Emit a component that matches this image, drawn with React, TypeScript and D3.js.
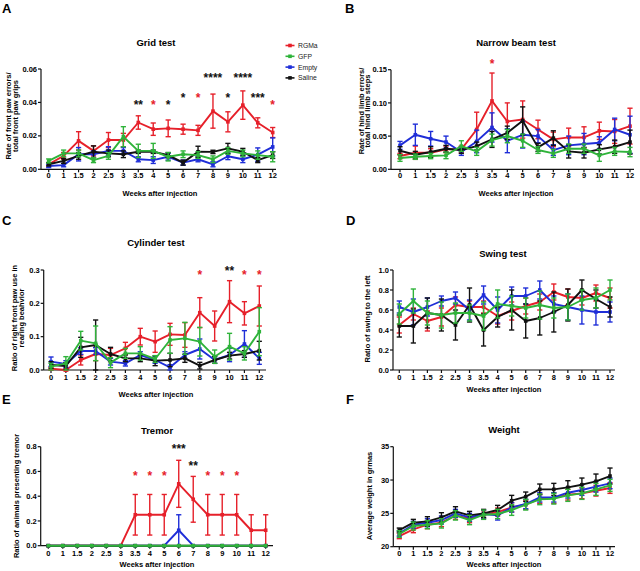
import React from 'react'
import * as d3 from 'd3'

// ── Categories ──────────────────────────────────────────────────────────────
const WEEKS = ['0', '1', '1.5', '2', '2.5', '3', '3.5', '4', '5', '6', '7', '8', '9', '10', '11', '12']
const WEEKS_CYL = ['0', '1', '1.5', '2', '2.5', '3', '4', '5', '6', '7', '8', '9', '10', '11', '12']
const GROUPS = ['RGMa', 'GFP', 'Empty', 'Saline']
const DRAW_ORDER = ['RGMa', 'Empty', 'Saline', 'GFP']
const COLORS: Record<string, string> = {
  RGMa: '#e6202a',
  GFP: '#2fb33a',
  Empty: '#1f2ed8',
  Saline: '#111111',
}
const STAR_RED = '#e6202a'
const STAR_BLACK = '#111111'

// ── A: Grid test ────────────────────────────────────────────────────────────
const gridMean: Record<string, number[]> = {
  RGMa: [0.003, 0.008, 0.017, 0.011, 0.0175, 0.0175, 0.028, 0.024, 0.0245, 0.024, 0.0233, 0.0348, 0.0284, 0.0384, 0.0278, 0.022],
  GFP: [0.005, 0.0095, 0.0095, 0.0055, 0.008, 0.0195, 0.011, 0.011, 0.0075, 0.009, 0.0085, 0.006, 0.011, 0.0095, 0.0085, 0.0075],
  Empty: [0.002, 0.0025, 0.009, 0.009, 0.011, 0.011, 0.006, 0.0055, 0.0075, 0.004, 0.006, 0.003, 0.0078, 0.006, 0.0088, 0.0134],
  Saline: [0.003, 0.005, 0.008, 0.0105, 0.0095, 0.009, 0.0105, 0.0105, 0.0085, 0.004, 0.0105, 0.0104, 0.0125, 0.0105, 0.0055, 0.0085],
}
const gridErr: Record<string, number[]> = {
  RGMa: [0.001, 0.002, 0.0055, 0.003, 0.0045, 0.004, 0.004, 0.0037, 0.005, 0.003, 0.003, 0.0102, 0.006, 0.0085, 0.003, 0.003],
  GFP: [0.0012, 0.002, 0.002, 0.0015, 0.002, 0.006, 0.004, 0.0045, 0.0025, 0.002, 0.002, 0.002, 0.002, 0.002, 0.0025, 0.003],
  Empty: [0.001, 0.001, 0.004, 0.002, 0.0025, 0.002, 0.0015, 0.002, 0.002, 0.0015, 0.0015, 0.0015, 0.002, 0.002, 0.004, 0.0054],
  Saline: [0.001, 0.0015, 0.002, 0.0035, 0.002, 0.002, 0.001, 0.001, 0.0015, 0.0015, 0.0033, 0.001, 0.003, 0.002, 0.0015, 0.002],
}
const gridStars = [
  { week: '3.5', value: 0.04, text: '**', color: STAR_BLACK },
  { week: '4', value: 0.04, text: '*', color: STAR_RED },
  { week: '5', value: 0.04, text: '*', color: STAR_BLACK },
  { week: '6', value: 0.0445, text: '*', color: STAR_BLACK },
  { week: '7', value: 0.0445, text: '*', color: STAR_RED },
  { week: '8', value: 0.0565, text: '****', color: STAR_BLACK },
  { week: '9', value: 0.0445, text: '*', color: STAR_BLACK },
  { week: '10', value: 0.0565, text: '****', color: STAR_BLACK },
  { week: '11', value: 0.0443, text: '***', color: STAR_BLACK },
  { week: '12', value: 0.04, text: '*', color: STAR_RED },
]

// ── B: Narrow beam test ─────────────────────────────────────────────────────
const beamMean: Record<string, number[]> = {
  RGMa: [0.02, 0.025, 0.025, 0.03, 0.03, 0.06, 0.103, 0.072, 0.075, 0.06, 0.045, 0.048, 0.048, 0.058, 0.057, 0.065],
  GFP: [0.017, 0.019, 0.02, 0.021, 0.035, 0.027, 0.044, 0.05, 0.043, 0.029, 0.024, 0.031, 0.031, 0.021, 0.027, 0.026],
  Empty: [0.036, 0.052, 0.046, 0.041, 0.026, 0.042, 0.063, 0.043, 0.052, 0.05, 0.029, 0.036, 0.038, 0.04, 0.06, 0.052],
  Saline: [0.028, 0.022, 0.026, 0.031, 0.029, 0.035, 0.045, 0.055, 0.073, 0.033, 0.047, 0.027, 0.025, 0.03, 0.034, 0.041],
}
const beamErr: Record<string, number[]> = {
  RGMa: [0.004, 0.01, 0.006, 0.005, 0.005, 0.026, 0.042, 0.028, 0.028, 0.014, 0.011, 0.014, 0.016, 0.013, 0.018, 0.027],
  GFP: [0.005, 0.004, 0.004, 0.005, 0.008, 0.006, 0.009, 0.01, 0.01, 0.005, 0.006, 0.007, 0.007, 0.009, 0.006, 0.007],
  Empty: [0.006, 0.016, 0.011, 0.009, 0.005, 0.017, 0.022, 0.018, 0.02, 0.01, 0.008, 0.014, 0.016, 0.009, 0.017, 0.028],
  Saline: [0.006, 0.005, 0.008, 0.005, 0.005, 0.006, 0.012, 0.01, 0.021, 0.006, 0.011, 0.01, 0.008, 0.007, 0.01, 0.018],
}
const beamStars = [{ week: '3.5', value: 0.163, text: '*', color: STAR_RED }]

// ── C: Cylinder test (no 3.5 week) ──────────────────────────────────────────
const cylMean: Record<string, number[]> = {
  RGMa: [0.004, 0.0, 0.03, 0.048, 0.045, 0.065, 0.1, 0.085, 0.107, 0.105, 0.172, 0.132, 0.205, 0.17, 0.192],
  GFP: [0.01, 0.02, 0.088, 0.08, 0.022, 0.05, 0.05, 0.033, 0.09, 0.095, 0.085, 0.04, 0.07, 0.05, 0.115],
  Empty: [0.025, 0.018, 0.057, 0.057, 0.025, 0.02, 0.045, 0.03, 0.008, 0.045, 0.063, 0.03, 0.045, 0.078, 0.035],
  Saline: [0.015, 0.012, 0.068, 0.075, 0.048, 0.035, 0.035, 0.028, 0.03, 0.035, 0.013, 0.03, 0.043, 0.048, 0.058],
}
const cylErr: Record<string, number[]> = {
  RGMa: [0.004, 0.003, 0.015, 0.02, 0.02, 0.018, 0.025, 0.032, 0.033, 0.037, 0.045, 0.045, 0.063, 0.035, 0.06],
  GFP: [0.01, 0.02, 0.028, 0.052, 0.015, 0.015, 0.02, 0.01, 0.04, 0.048, 0.043, 0.02, 0.04, 0.02, 0.072],
  Empty: [0.014, 0.01, 0.01, 0.01, 0.01, 0.008, 0.01, 0.01, 0.008, 0.01, 0.03, 0.01, 0.02, 0.04, 0.018],
  Saline: [0.01, 0.01, 0.03, 0.075, 0.02, 0.01, 0.01, 0.015, 0.02, 0.012, 0.01, 0.01, 0.01, 0.01, 0.028],
}
const cylStars = [
  { week: '8', value: 0.293, text: '*', color: STAR_RED },
  { week: '10', value: 0.307, text: '**', color: STAR_BLACK },
  { week: '11', value: 0.293, text: '*', color: STAR_RED },
  { week: '12', value: 0.293, text: '*', color: STAR_RED },
]

// ── D: Swing test ───────────────────────────────────────────────────────────
const swingMean: Record<string, number[]> = {
  RGMa: [0.45, 0.56, 0.49, 0.53, 0.65, 0.63, 0.63, 0.54, 0.59, 0.64, 0.68, 0.78, 0.73, 0.72, 0.77, 0.72],
  GFP: [0.56, 0.69, 0.57, 0.55, 0.57, 0.57, 0.54, 0.66, 0.64, 0.62, 0.65, 0.62, 0.63, 0.7, 0.72, 0.8],
  Empty: [0.63, 0.58, 0.63, 0.69, 0.72, 0.6, 0.75, 0.6, 0.74, 0.74, 0.8, 0.66, 0.63, 0.6, 0.58, 0.58],
  Saline: [0.44, 0.44, 0.57, 0.55, 0.45, 0.65, 0.4, 0.53, 0.6, 0.49, 0.52, 0.58, 0.65, 0.8, 0.71, 0.63],
}
const swingErr: Record<string, number[]> = {
  RGMa: [0.08, 0.06, 0.1, 0.09, 0.08, 0.06, 0.06, 0.08, 0.09, 0.08, 0.08, 0.08, 0.08, 0.07, 0.08, 0.1],
  GFP: [0.1, 0.12, 0.12, 0.13, 0.1, 0.08, 0.14, 0.14, 0.1, 0.1, 0.14, 0.1, 0.13, 0.1, 0.1, 0.1],
  Empty: [0.06, 0.13, 0.09, 0.05, 0.06, 0.1, 0.09, 0.13, 0.09, 0.08, 0.09, 0.08, 0.13, 0.14, 0.13, 0.1],
  Saline: [0.11, 0.17, 0.15, 0.16, 0.15, 0.17, 0.16, 0.1, 0.2, 0.17, 0.17, 0.2, 0.16, 0.1, 0.09, 0.1],
}

// ── E: Tremor ───────────────────────────────────────────────────────────────
const tremorMean: Record<string, number[]> = {
  RGMa: [0, 0, 0, 0, 0, 0, 0.25, 0.25, 0.25, 0.5, 0.375, 0.25, 0.25, 0.25, 0.125, 0.125],
  GFP: [0, 0, 0, 0, 0, 0, 0, 0, 0, 0, 0, 0, 0, 0, 0, 0],
  Empty: [0, 0, 0, 0, 0, 0, 0, 0, 0, 0.125, 0, 0, 0, 0, 0, 0],
  Saline: [0, 0, 0, 0, 0, 0, 0, 0, 0, 0, 0, 0, 0, 0, 0, 0],
}
const tremorErr: Record<string, number[]> = {
  RGMa: [0, 0, 0, 0, 0, 0, 0.164, 0.164, 0.164, 0.19, 0.185, 0.164, 0.164, 0.164, 0.125, 0.125],
  GFP: [0, 0, 0, 0, 0, 0, 0, 0, 0, 0, 0, 0, 0, 0, 0, 0],
  Empty: [0, 0, 0, 0, 0, 0, 0, 0, 0, 0.125, 0, 0, 0, 0, 0, 0],
  Saline: [0, 0, 0, 0, 0, 0, 0, 0, 0, 0, 0, 0, 0, 0, 0, 0],
}
const tremorStars = [
  { week: '3.5', value: 0.59, text: '*', color: STAR_RED },
  { week: '4', value: 0.59, text: '*', color: STAR_RED },
  { week: '5', value: 0.59, text: '*', color: STAR_RED },
  { week: '6', value: 0.806, text: '***', color: STAR_BLACK },
  { week: '7', value: 0.67, text: '**', color: STAR_BLACK },
  { week: '8', value: 0.59, text: '*', color: STAR_RED },
  { week: '9', value: 0.59, text: '*', color: STAR_RED },
  { week: '10', value: 0.59, text: '*', color: STAR_RED },
]

// ── F: Weight ───────────────────────────────────────────────────────────────
const weightMean: Record<string, number[]> = {
  RGMa: [21.6, 22.6, 23.3, 23.6, 24.7, 24.2, 24.8, 25.2, 25.9, 26.3, 27.2, 27.3, 27.8, 28.0, 28.4, 28.8],
  GFP: [21.9, 23.1, 23.3, 23.5, 24.7, 24.0, 24.8, 24.9, 25.5, 26.3, 27.1, 27.2, 27.7, 28.0, 28.6, 29.2],
  Empty: [22.0, 23.3, 23.6, 24.0, 25.0, 24.4, 24.9, 24.7, 25.9, 26.4, 27.4, 27.4, 28.1, 28.5, 29.0, 29.5],
  Saline: [22.5, 23.6, 23.8, 24.4, 25.3, 24.7, 25.0, 25.5, 26.9, 27.5, 28.6, 28.6, 28.9, 29.3, 29.8, 30.6],
}
const weightErr: Record<string, number[]> = {
  RGMa: [0.4, 0.5, 0.6, 0.6, 0.6, 0.6, 0.6, 0.6, 0.7, 0.7, 0.7, 0.8, 0.8, 0.8, 0.8, 0.8],
  GFP: [0.5, 0.6, 0.6, 0.7, 0.7, 0.7, 0.7, 0.7, 0.8, 0.8, 0.8, 0.8, 0.9, 0.9, 0.9, 0.9],
  Empty: [0.4, 0.5, 0.6, 0.6, 0.6, 0.6, 0.6, 0.7, 0.7, 0.7, 0.7, 0.7, 0.8, 0.8, 0.8, 0.8],
  Saline: [0.3, 0.5, 0.7, 0.7, 0.7, 0.6, 0.6, 0.7, 0.8, 0.7, 0.8, 0.9, 1.0, 1.0, 1.1, 1.2],
}

// ── Panel layout ────────────────────────────────────────────────────────────
const FONT = "'Liberation Sans', Arial, Helvetica, sans-serif"

const PANELS = [
  {
    letter: 'A', letterPos: [2, 13], title: 'Grid test', titlePos: [156, 45.5],
    weeks: WEEKS, mean: gridMean, err: gridErr, stars: gridStars,
    axisX: 41, x0: 48.7, x1: 272.7, xEnd: 276, yTop: 69, yBottom: 169.3,
    yDomain: [0, 0.06], yTicks: [0, 0.02, 0.04, 0.06], fmt: '.2f',
    tickY: 178, xTitlePos: [160, 196],
    yLabel: ['Rate of front paw errors/', 'total front paw grips'], yLabelX: [10.5, 18], yLabelY: 116,
  },
  {
    letter: 'B', letterPos: [345, 13], title: 'Narrow beam test', titlePos: [516, 46],
    weeks: WEEKS, mean: beamMean, err: beamErr, stars: beamStars,
    axisX: 391, x0: 400, x1: 630, xEnd: 634, yTop: 69.7, yBottom: 169.3,
    yDomain: [0, 0.15], yTicks: [0, 0.05, 0.1, 0.15], fmt: '.2f',
    tickY: 178, xTitlePos: [516, 196],
    yLabel: ['Rate of hind limb errors/', 'total hind limb steps'], yLabelX: [363.5, 370], yLabelY: 111,
  },
  {
    letter: 'C', letterPos: [2, 225], title: 'Cylinder test', titlePos: [156, 246],
    weeks: WEEKS_CYL, mean: cylMean, err: cylErr, stars: cylStars,
    axisX: 43.7, x0: 51, x1: 259.3, xEnd: 266, yTop: 270, yBottom: 370,
    yDomain: [0, 0.3], yTicks: [0, 0.1, 0.2, 0.3], fmt: '.1f',
    tickY: 380, xTitlePos: [156, 397],
    yLabel: ['Ratio of right front paw use in', 'rearing beahvior'], yLabelX: [16.5, 23.5], yLabelY: 318,
  },
  {
    letter: 'D', letterPos: [346, 225], title: 'Swing test', titlePos: [503, 256.5],
    weeks: WEEKS, mean: swingMean, err: swingErr, stars: [],
    axisX: 393, x0: 399.3, x1: 610, xEnd: 615, yTop: 270, yBottom: 370,
    yDomain: [0, 1], yTicks: [0, 0.2, 0.4, 0.6, 0.8, 1.0], fmt: '.1f',
    tickY: 380, xTitlePos: [504, 392],
    yLabel: ['Ratio of swing to the left'], yLabelX: [370], yLabelY: 319,
  },
  {
    letter: 'E', letterPos: [2, 404], title: 'Tremor', titlePos: [157, 434],
    weeks: WEEKS, mean: tremorMean, err: tremorErr, stars: tremorStars,
    axisX: 40.7, x0: 48.3, x1: 265.7, xEnd: 273, yTop: 446.7, yBottom: 545.7,
    yDomain: [0, 0.8], yTicks: [0, 0.2, 0.4, 0.6, 0.8], fmt: '.1f',
    tickY: 556, xTitlePos: [157, 567],
    yLabel: ['Ratio of animals presenting tremor'], yLabelX: [18.5], yLabelY: 496,
  },
  {
    letter: 'F', letterPos: [346, 404], title: 'Weight', titlePos: [504, 433],
    weeks: WEEKS, mean: weightMean, err: weightErr, stars: [],
    axisX: 393.3, x0: 399.3, x1: 610, xEnd: 615, yTop: 446.7, yBottom: 546.7,
    yDomain: [20, 35], yTicks: [20, 25, 30, 35], fmt: 'd',
    tickY: 556, xTitlePos: [504, 567],
    yLabel: ['Average weight in grmas'], yLabelX: [371.5], yLabelY: 496,
  },
]

function Panel({ p }: { p: any }) {
  const x = d3.scalePoint<string>().domain(p.weeks).range([p.x0, p.x1])
  const y = d3.scaleLinear().domain(p.yDomain).range([p.yBottom, p.yTop])
  const fmt = d3.format(p.fmt)
  const line = d3.line<number>()
    .x((_, i) => x(p.weeks[i]) as number)
    .y((d) => y(d))

  return (
    <g fontFamily={FONT}>
      <text x={p.letterPos[0]} y={p.letterPos[1]} fontSize={13} fontWeight="bold">{p.letter}</text>
      <text x={p.titlePos[0]} y={p.titlePos[1]} fontSize={9.5} fontWeight="bold" textAnchor="middle">{p.title}</text>

      {/* y axis */}
      <line x1={p.axisX} x2={p.axisX} y1={p.yTop} y2={p.yBottom} stroke="#111" strokeWidth={1.2} />
      {p.yTicks.map((t: number) => (
        <g key={`yt${t}`}>
          <line x1={p.axisX - 3} x2={p.axisX} y1={y(t)} y2={y(t)} stroke="#111" strokeWidth={1.2} />
          <text x={p.axisX - 4} y={y(t) + 2.6} fontSize={7.5} fontWeight="bold" textAnchor="end">{fmt(t)}</text>
        </g>
      ))}

      {/* x axis */}
      <line x1={p.axisX} x2={p.xEnd} y1={p.yBottom} y2={p.yBottom} stroke="#111" strokeWidth={1.2} />
      {p.weeks.map((w: string) => (
        <g key={`xt${w}`}>
          <line x1={x(w)} x2={x(w)} y1={p.yBottom} y2={p.yBottom + 3} stroke="#111" strokeWidth={1.2} />
          <text x={x(w)} y={p.tickY} fontSize={7.5} fontWeight="bold" textAnchor="middle">{w}</text>
        </g>
      ))}
      <text x={p.xTitlePos[0]} y={p.xTitlePos[1]} fontSize={7.5} fontWeight="bold" textAnchor="middle">Weeks after injection</text>

      {p.yLabel.map((s: string, i: number) => (
        <text key={s} transform={`translate(${p.yLabelX[i]},${p.yLabelY}) rotate(-90)`}
          fontSize={7.5} fontWeight="bold" textAnchor="middle">{s}</text>
      ))}

      {/* series */}
      {DRAW_ORDER.map((g) => {
        const m: number[] = p.mean[g]
        const e: number[] = p.err[g]
        const c = COLORS[g]
        return (
          <g key={g}>
            {m.map((v, i) => e[i] > 0 && (
              <g key={i} stroke={c} strokeWidth={1.4}>
                <line x1={x(p.weeks[i])} x2={x(p.weeks[i])} y1={y(v - e[i])} y2={y(v + e[i])} />
                <line x1={(x(p.weeks[i]) as number) - 2.6} x2={(x(p.weeks[i]) as number) + 2.6} y1={y(v + e[i])} y2={y(v + e[i])} />
                <line x1={(x(p.weeks[i]) as number) - 2.6} x2={(x(p.weeks[i]) as number) + 2.6} y1={y(v - e[i])} y2={y(v - e[i])} />
              </g>
            ))}
            <path d={line(m) as string} fill="none" stroke={c} strokeWidth={1.9} strokeLinejoin="round" />
            {m.map((v, i) => (
              <rect key={`m${i}`} x={(x(p.weeks[i]) as number) - 1.8} y={y(v) - 1.8} width={3.6} height={3.6} fill={c} />
            ))}
          </g>
        )
      })}

      {p.stars.map((s: any) => (
        <text key={`s${s.week}`} x={x(s.week)} y={y(s.value) + 7} fontSize={12} fontWeight="bold"
          textAnchor="middle" fill={s.color}>{s.text}</text>
      ))}
    </g>
  )
}

function Legend() {
  return (
    <g fontFamily={FONT}>
      {GROUPS.map((g, i) => {
        const ly = 45.5 + i * 10.8
        return (
          <g key={g}>
            <line x1={285.5} x2={294.5} y1={ly} y2={ly} stroke={COLORS[g]} strokeWidth={1.6} />
            <rect x={288.2} y={ly - 1.8} width={3.6} height={3.6} fill={COLORS[g]} />
            <text x={298} y={ly + 2.4} fontSize={6.8} fill="#222">{g}</text>
          </g>
        )
      })}
    </g>
  )
}

export default function App() {
  return (
    <svg width={640} height={571} style={{ position: 'fixed', left: 0, top: 0, background: '#fff' }}>
      <rect width={640} height={571} fill="#fff" />
      {PANELS.map((p) => <Panel key={p.letter} p={p} />)}
      <Legend />
    </svg>
  )
}
